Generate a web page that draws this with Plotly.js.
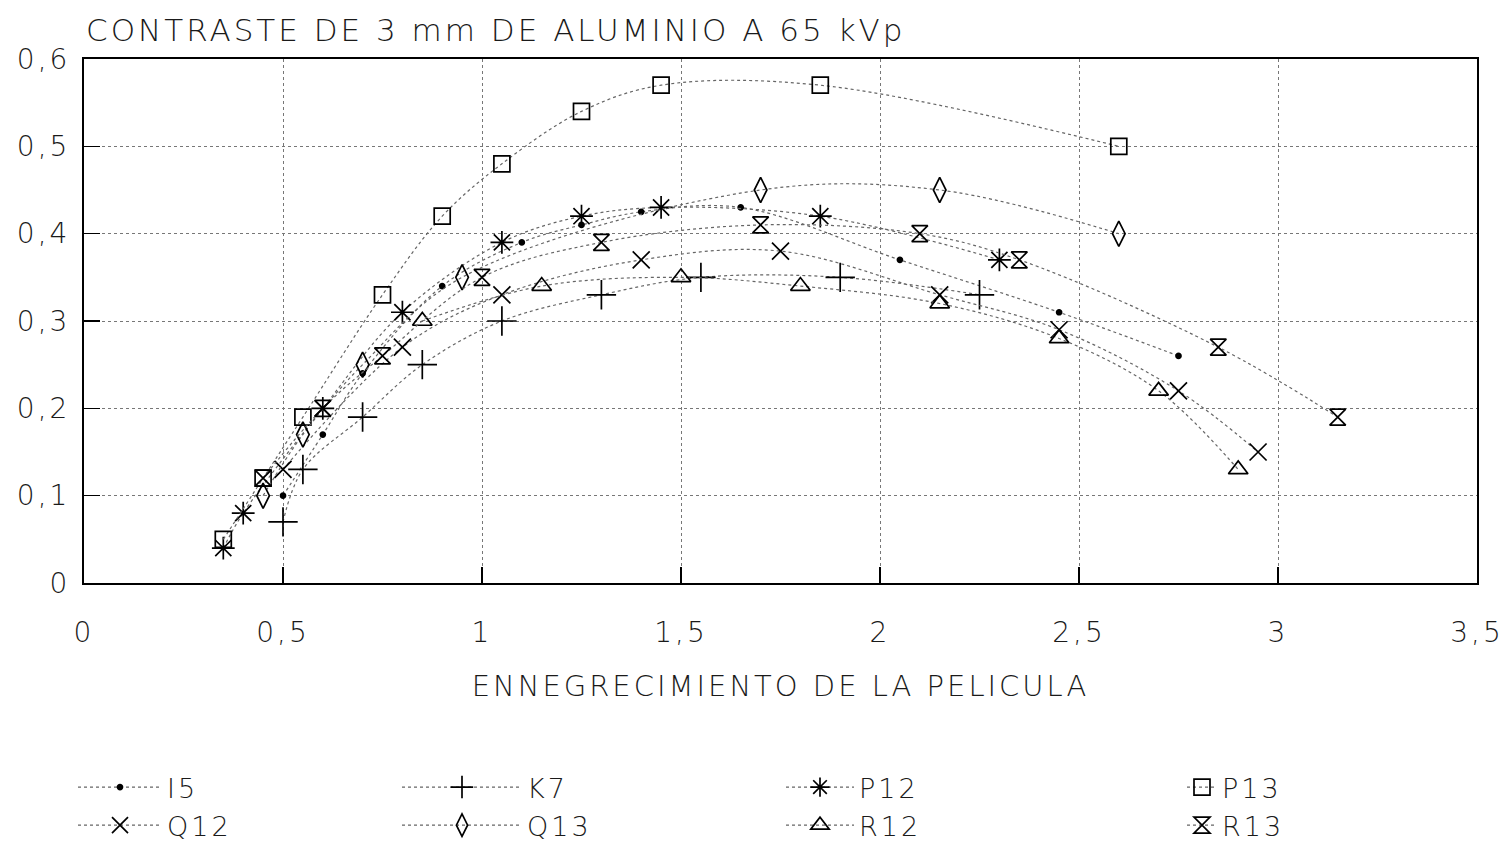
<!DOCTYPE html>
<html>
<head>
<meta charset="utf-8">
<script src="https://cdn.plot.ly/plotly-3.0.1.min.js"></script>
<style>
html,body{margin:0;padding:0;background:#fff;}
#chart{width:1509px;height:867px;}
#chart text{letter-spacing:3px;}
</style>
</head>
<body>
<div id="chart"></div>
<script>
// ---- Data ----
const seriesNames = ["I5", "K7", "P12", "P13", "Q12", "Q13", "R12", "R13"];

const I5_x = [0.5, 0.6, 0.7, 0.9, 1.1, 1.25, 1.4, 1.65, 2.05, 2.45, 2.75];
const I5_y = [0.10, 0.17, 0.24, 0.34, 0.39, 0.41, 0.425, 0.43, 0.37, 0.31, 0.26];

const K7_x = [0.5, 0.55, 0.7, 0.85, 1.05, 1.3, 1.55, 1.9, 2.25];
const K7_y = [0.07, 0.13, 0.19, 0.25, 0.30, 0.33, 0.35, 0.35, 0.33];

const P12_x = [0.35, 0.4, 0.6, 0.8, 1.05, 1.25, 1.45, 1.85, 2.3];
const P12_y = [0.04, 0.08, 0.20, 0.31, 0.39, 0.42, 0.43, 0.42, 0.37];

const P13_x = [0.35, 0.45, 0.55, 0.75, 0.9, 1.05, 1.25, 1.45, 1.85, 2.6];
const P13_y = [0.05, 0.12, 0.19, 0.33, 0.42, 0.48, 0.54, 0.57, 0.57, 0.50];

const Q12_x = [0.5, 0.8, 1.05, 1.4, 1.75, 2.15, 2.45, 2.75, 2.95];
const Q12_y = [0.13, 0.27, 0.33, 0.37, 0.38, 0.33, 0.29, 0.22, 0.15];

const Q13_x = [0.45, 0.55, 0.7, 0.95, 1.7, 2.15, 2.6];
const Q13_y = [0.10, 0.17, 0.25, 0.35, 0.45, 0.45, 0.40];

const R12_x = [0.85, 1.15, 1.5, 1.8, 2.15, 2.45, 2.7, 2.9];
const R12_y = [0.30, 0.34, 0.35, 0.34, 0.32, 0.28, 0.22, 0.13];

const R13_x = [0.45, 0.6, 0.75, 1.0, 1.3, 1.7, 2.1, 2.35, 2.85, 3.15];
const R13_y = [0.12, 0.20, 0.26, 0.35, 0.39, 0.41, 0.40, 0.37, 0.27, 0.19];

const xTickVals = [0, 0.5, 1, 1.5, 2, 2.5, 3, 3.5];
const xTickText = ["0", "0,5", "1", "1,5", "2", "2,5", "3", "3,5"];
const yTickVals = [0, 0.1, 0.2, 0.3, 0.4, 0.5, 0.6];
const yTickText = ["0", "0,1", "0,2", "0,3", "0,4", "0,5", "0,6"];

const titleText = "CONTRASTE DE 3 mm DE ALUMINIO A 65 kVp";
const xTitleText = "ENNEGRECIMIENTO DE LA PELICULA";

// ---- Styling ----
const FONT = "DejaVu Sans, sans-serif";
const WEIGHT = 200;
const INK = "#1a1a1a";
const LINE = {color: "#666", width: 1.2, dash: "dot", shape: "spline", smoothing: 1};

const xs = [I5_x, K7_x, P12_x, P13_x, Q12_x, Q13_x, R12_x, R13_x];
const ys = [I5_y, K7_y, P12_y, P13_y, Q12_y, Q13_y, R12_y, R13_y];
const symbols = ["circle", "cross-thin-open", "asterisk-open", "square-open",
                 "x-thin-open", "diamond-tall-open", "triangle-up-open", "hourglass-open"];
const sizes = [5, 21, 19, 16, 17, 18, 17, 16];
const legendIds = ["legend", "legend2", "legend3", "legend4", "legend", "legend2", "legend3", "legend4"];

const traces = seriesNames.map((name, i) => ({
  type: "scatter",
  mode: "lines+markers",
  name: name,
  x: xs[i],
  y: ys[i],
  legend: legendIds[i],
  line: LINE,
  marker: {
    symbol: symbols[i],
    size: sizes[i],
    color: "#000",
    line: {color: "#000", width: 1.7}
  },
  cliponaxis: false
}));

function legendAt(xpx, iw) {
  return {
    xref: "container", yref: "container",
    x: xpx / 1509, y: 1 - 763 / 867,
    xanchor: "left", yanchor: "top",
    orientation: "v",
    bgcolor: "rgba(0,0,0,0)",
    borderwidth: 0,
    itemwidth: iw,
    tracegroupgap: 0,
    font: {family: FONT, size: 27, color: INK, weight: WEIGHT}
  };
}

const layout = {
  width: 1509,
  height: 867,
  margin: {l: 84, r: 32, t: 59, b: 284, autoexpand: false},
  paper_bgcolor: "#fff",
  plot_bgcolor: "#fff",
  separators: ",.",
  font: {family: FONT, color: INK, weight: WEIGHT},
  title: {
    text: titleText,
    xref: "container", yref: "container",
    x: 86 / 1509, xanchor: "left",
    y: 1 - 30 / 867, yanchor: "middle",
    font: {family: FONT, size: 31, color: INK, weight: WEIGHT}
  },
  xaxis: {
    range: [0, 3.5],
    tickvals: xTickVals,
    ticktext: xTickText,
    ticks: "inside",
    ticklen: 16,
    tickwidth: 1.5,
    tickcolor: "#000",
    showline: true,
    linecolor: "#000",
    linewidth: 2,
    mirror: true,
    showgrid: true,
    gridcolor: "#777",
    gridwidth: 1,
    griddash: "dot",
    zeroline: false,
    automargin: false,
    ticklabelstandoff: 23,
    tickfont: {family: FONT, size: 28, color: INK, weight: WEIGHT},
    title: {text: xTitleText, font: {family: FONT, size: 29, color: INK, weight: WEIGHT}, standoff: 28}
  },
  yaxis: {
    range: [0, 0.6],
    tickvals: yTickVals,
    ticktext: yTickText,
    ticks: "inside",
    ticklen: 16,
    tickwidth: 1.5,
    tickcolor: "#000",
    showline: true,
    linecolor: "#000",
    linewidth: 2,
    mirror: true,
    showgrid: true,
    gridcolor: "#777",
    gridwidth: 1,
    griddash: "dot",
    zeroline: false,
    automargin: false,
    ticklabelstandoff: 6,
    tickfont: {family: FONT, size: 28, color: INK, weight: WEIGHT}
  },
  legend: legendAt(73, 84),
  legend2: legendAt(397, 120),
  legend3: legendAt(781, 68),
  legend4: legendAt(1182, 30),
  showlegend: true
};

Plotly.newPlot("chart", traces, layout, {displayModeBar: false, staticPlot: true});
</script>
</body>
</html>
